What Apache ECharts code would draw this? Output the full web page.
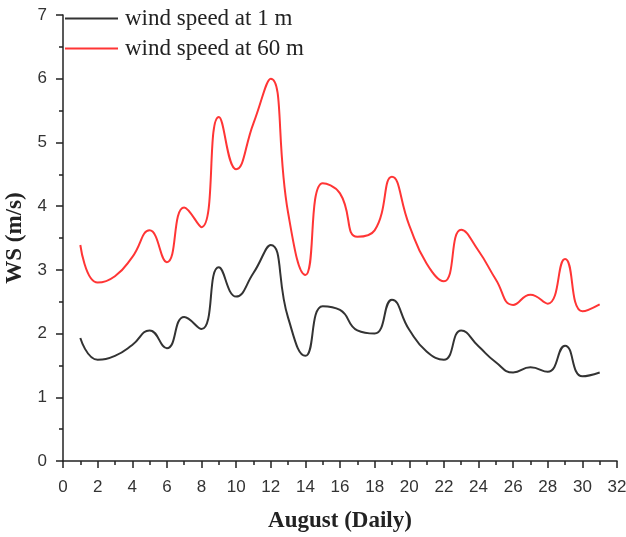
<!DOCTYPE html>
<html>
<head>
<meta charset="utf-8">
<script src="https://cdn.jsdelivr.net/npm/echarts@6/dist/echarts.min.js"></script>
<style>
html, body { margin: 0; padding: 0; background: #fff; }
#main { width: 626px; height: 537px; }
</style>
</head>
<body>
<div id="main"></div>
<script>
//////////// wind speed, August daily //////////////////
var days = [1,2,3,4,5,6,7,8,9,10,11,12,13,14,15,16,17,18,19,20,21,22,23,24,25,26,27,28,29,30,31];
var ws1m = [1.93,1.59,1.65,1.82,2.05,1.77,2.26,2.07,3.04,2.58,2.95,3.39,2.25,1.65,2.43,2.37,2.05,2.00,2.53,2.06,1.72,1.59,2.05,1.80,1.55,1.39,1.47,1.40,1.81,1.33,1.39];
var ws60m = [3.39,2.80,2.90,3.20,3.62,3.12,3.98,3.67,5.40,4.58,5.30,6.00,3.90,2.92,4.36,4.20,3.52,3.62,4.46,3.70,3.10,2.82,3.63,3.30,2.85,2.45,2.61,2.47,3.17,2.35,2.46];

var chart_dom = document.getElementById('main');
var myChart = echarts.init(chart_dom);

function pairs(xs, ys) {
    var out = [];
    for (var i = 0; i < xs.length; i++) out.push([xs[i], ys[i]]);
    return out;
}

var tickStyle = { color: '#222', width: 1.5 };

var option = {
    backgroundColor: '#FFFFFF',
    animation: false,
    grid: {
        left: 63,
        right: 9,
        top: 15,
        bottom: 76,
        outerBoundsMode: 'none',
        containLabel: false
    },
    legend: {
        orient: 'vertical',
        left: 60,
        top: 2,
        icon: 'rect',
        itemWidth: 53,
        itemHeight: 2,
        itemGap: 7,
        data: ['wind speed at 1 m', 'wind speed at 60 m'],
        textStyle: {
            fontFamily: 'Liberation Serif',
            fontSize: 23,
            color: '#222',
            padding: [0, 0, 0, 2]
        }
    },
    xAxis: {
        type: 'value',
        min: 0,
        max: 32,
        interval: 2,
        name: 'August (Daily)',
        nameLocation: 'middle',
        nameGap: 49,
        nameTextStyle: {
            fontFamily: 'Liberation Serif',
            fontWeight: 'bold',
            fontSize: 23,
            color: '#222'
        },
        axisLine: { lineStyle: tickStyle },
        axisTick: { length: 7, lineStyle: tickStyle },
        minorTick: { show: true, splitNumber: 2, length: 4, lineStyle: tickStyle },
        axisLabel: {
            fontFamily: 'Liberation Sans',
            fontSize: 17,
            color: '#333',
            margin: 18
        },
        splitLine: { show: false }
    },
    yAxis: {
        type: 'value',
        min: 0,
        max: 7,
        interval: 1,
        name: 'WS (m/s)',
        nameLocation: 'middle',
        nameGap: 27,
        nameTextStyle: {
            fontFamily: 'Liberation Serif',
            fontWeight: 'bold',
            fontSize: 23,
            color: '#222'
        },
        axisLine: { show: true, lineStyle: tickStyle },
        axisTick: { show: true, length: 7, lineStyle: tickStyle },
        minorTick: { show: true, splitNumber: 2, length: 4, lineStyle: tickStyle },
        axisLabel: {
            fontFamily: 'Liberation Sans',
            fontSize: 17,
            color: '#333',
            margin: 16
        },
        splitLine: { show: false }
    },
    series: [
        {
            name: 'wind speed at 1 m',
            type: 'line',
            smooth: 0.5,
            symbol: 'none',
            data: pairs(days, ws1m),
            color: '#333333',
            lineStyle: { width: 2 }
        },
        {
            name: 'wind speed at 60 m',
            type: 'line',
            smooth: 0.5,
            symbol: 'none',
            data: pairs(days, ws60m),
            color: '#FF3535',
            lineStyle: { width: 2 }
        }
    ]
};
myChart.setOption(option);
</script>
</body>
</html>
